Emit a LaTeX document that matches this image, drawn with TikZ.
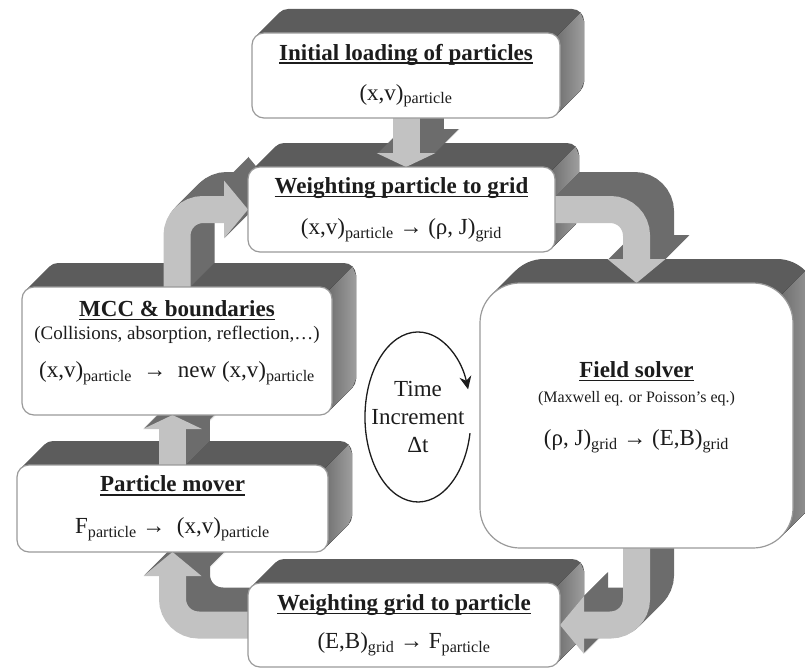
\documentclass[tikz,border=0pt]{standalone}
\usepackage{fontspec}
\setmainfont{Liberation Serif}
\usetikzlibrary{arrows.meta,calc}

\definecolor{slabtop}{HTML}{5C5C5C}
\definecolor{slabfront}{HTML}{707070}
\definecolor{slabback}{HTML}{9E9E9E}
\definecolor{flowface}{HTML}{C2C2C2}
\definecolor{flowside}{HTML}{6C6C6C}
\definecolor{boxline}{HTML}{9A9A9A}
\definecolor{ink}{HTML}{1C1C1C}

% bold title with a heavy underline
\newcommand{\ttl}[1]{\setbox0=\hbox{\bfseries #1}\rlap{\rule[-4pt]{\wd0}{1.8pt}}\box0}

\pgfdeclarelayer{slabs}
\pgfdeclarelayer{flows}
\pgfsetlayers{slabs,flows,main}

\begin{document}
\begin{tikzpicture}[
    x=1pt, y=-1pt,
    box/.style={draw=boxline, line width=1.2pt, fill=white, rounded corners=12pt, align=center,
      inner sep=0pt, outer sep=0pt, text=ink, font=\fontsize{23}{26}\selectfont},
    flow/.style={line width=27pt, rounded corners=26pt,
      -{Triangle[length=24pt,width=58pt,line width=0pt]}},
    shortflow/.style={-{Triangle[length=14pt,width=59pt,line width=0pt]}},
    tickarc/.style={draw=ink, line width=1.3pt, -{Stealth[length=13pt,width=12pt]}}
]
\useasboundingbox (0,0) rectangle (805,669);

% boxes
\node[box, minimum width=308pt, minimum height=85pt] (init) at (406,75.5)
  {\ttl{Initial loading of particles}\\[14pt] (x,v)\textsubscript{particle}};
\node[box, minimum width=307pt, minimum height=85pt] (wp2g) at (401.5,209.5)
  {\ttl{Weighting particle to grid}\\[15pt] (x,v)\textsubscript{particle} → (ρ, J)\textsubscript{grid}};
\node[box, minimum width=310pt, minimum height=128pt, text depth=24pt] (mcc) at (177,351)
  {\ttl{MCC \& boundaries}\\[-3pt]
   {\fontsize{19}{22}\selectfont (Collisions, absorption, reflection,…)}\\[12pt]
   (x,v)\textsubscript{particle} \ → \ new (x,v)\textsubscript{particle}};
\node[box, minimum width=311pt, minimum height=87pt] (mover) at (172.5,508.5)
  {\ttl{Particle mover}\\[16pt] F\textsubscript{particle} → \ (x,v)\textsubscript{particle}};
\node[box, minimum width=312pt, minimum height=84pt] (wg2p) at (404,625)
  {\ttl{Weighting grid to particle}\\[12pt] (E,B)\textsubscript{grid} → F\textsubscript{particle}};
\node[box, rounded corners=40pt, minimum width=313pt, minimum height=265pt, text depth=24pt] (field) at (636.5,415.5)
  {\ttl{Field solver}\\[-1pt]
   {\fontsize{16}{19}\selectfont (Maxwell eq. or Poisson’s eq.)}\\[17pt]
   (ρ, J)\textsubscript{grid} → (E,B)\textsubscript{grid}};

% time step loop
\node[font=\fontsize{23}{28}\selectfont, text=ink, align=center] (tinc) at (418,417) {Time\\Increment\\Δt};
\draw[tickarc] ([shift={(52pt,-16.2pt)}]tinc.center)
  arc[start angle=-11, end angle=-341, x radius=53pt, y radius=85pt];

% 3d slabs behind the boxes
\begin{pgfonlayer}{slabs}
\foreach \bx/\rad in {init/12, wp2g/12, mcc/12, mover/12, wg2p/12, field/40} {
  \foreach \k in {24,...,1}
    \fill[slabtop, rounded corners=\rad pt, transform canvas={shift={(\k pt,\k pt)}}]
      (\bx.south west) rectangle (\bx.north east);
  \fill[left color=slabfront, right color=slabback]
    ($(\bx.north east)+(-0.29*\rad pt,-0.29*\rad pt)$) -- ++(24pt,24pt)
    -- ($(\bx.north east)+(24pt,24pt-\rad pt)$)
    -- ($(\bx.south east)+(24pt,24pt+\rad pt)$)
    -- ($(\bx.south east)+(24pt-0.29*\rad pt,24pt+0.29*\rad pt)$)
    -- ($(\bx.south east)+(-0.29*\rad pt,0.29*\rad pt)$) -- cycle;
}
\end{pgfonlayer}

% block arrows, extruded
\begin{pgfonlayer}{flows}
\foreach \k in {24,...,0} {
  \ifnum\k=0 \def\fc{flowface}\else\def\fc{flowside}\fi
  \begin{scope}[draw=\fc, transform canvas={shift={(\k pt,\k pt)}}]
    \draw[flow, shortflow] (init.south) -- (init.south |- wp2g.north);
    \draw[flow, shortflow] (mover.north) -- (mover.north |- mcc.south);
    \draw[flow] (mcc.north) |- (wp2g.west);
    \draw[flow] (wp2g.east) -| (field.north);
    \draw[flow] (field.south) |- (wg2p.east);
    \draw[flow] (wg2p.west) -| (mover.south);
  \end{scope}
}
\end{pgfonlayer}
\end{tikzpicture}
\end{document}
